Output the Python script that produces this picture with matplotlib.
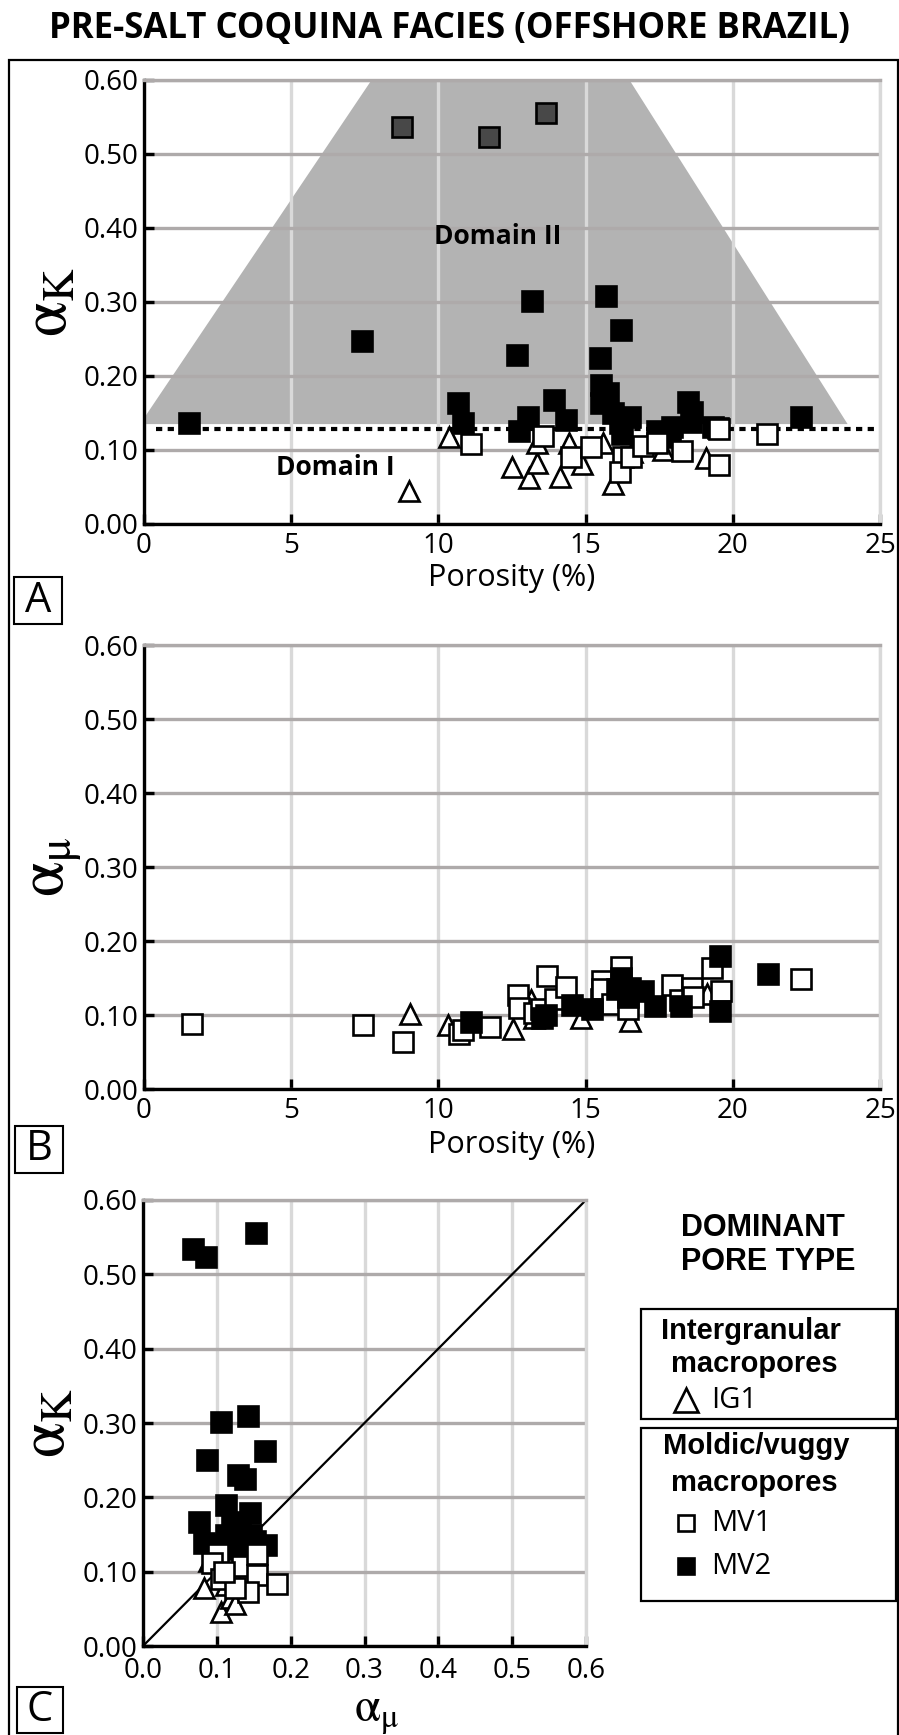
import numpy as np
import matplotlib
matplotlib.use("Agg")
import matplotlib.pyplot as plt
from matplotlib.patches import Rectangle, Polygon
from matplotlib.lines import Line2D

plt.rcParams['mathtext.fontset'] = 'stix'
plt.rcParams['font.family'] = ['Open Sans', 'DejaVu Sans']

# ---- panel A : porosity (%) vs alpha_K ----
ig1_phi_a = [9.01, 10.36, 12.50, 13.07, 13.34, 13.36, 14.13, 14.44, 14.89, 15.60, 15.92, 16.57, 17.62, 19.09]
ig1_ak_a = [0.044, 0.118, 0.077, 0.062, 0.083, 0.110, 0.063, 0.110, 0.081, 0.110, 0.054, 0.097, 0.100, 0.089]

mv1_phi_a = [11.12, 13.56, 14.50, 15.17, 16.27, 16.17, 16.55, 16.94, 17.43, 18.27, 19.54, 19.54, 21.17]
mv1_ak_a = [0.108, 0.119, 0.091, 0.104, 0.090, 0.070, 0.091, 0.106, 0.109, 0.098, 0.128, 0.080, 0.121]

mv2_phi_a = [1.53, 7.42, 13.18, 12.68, 10.65, 10.82, 13.06, 12.73, 13.94, 14.32, 15.70, 16.20,
             15.50, 15.52, 15.75, 15.52, 15.94, 16.50, 16.22, 16.17, 17.41, 17.92, 17.87, 18.49,
             18.63, 18.57, 19.34, 19.50, 22.30]
mv2_ak_a = [0.137, 0.247, 0.302, 0.228, 0.164, 0.136, 0.145, 0.126, 0.168, 0.141, 0.308, 0.262,
            0.224, 0.188, 0.177, 0.164, 0.150, 0.145, 0.122, 0.137, 0.125, 0.131, 0.118, 0.165,
            0.152, 0.138, 0.131, 0.130, 0.144]

# three high alpha_K samples drawn in dark grey
mv2d_phi_a = [8.78, 11.72, 13.67]
mv2d_ak_a = [0.536, 0.523, 0.556]

# Domain II outline and Domain I/II limit
domain2_phi = [0.0, 0.0, 7.73, 16.49, 23.9]
domain2_ak = [0.135, 0.143, 0.60, 0.60, 0.135]
limit_phi = [0.4, 24.8]
limit_ak = 0.128

# ---- panel B : porosity (%) vs alpha_mu ----
ig1_phi_b = [9.02, 10.33, 12.54, 13.15, 13.25, 14.86, 16.52, 19.12]
ig1_amu_b = [0.101, 0.086, 0.081, 0.120, 0.096, 0.096, 0.092, 0.128]

mv1_phi_b = [1.63, 7.45, 8.81, 10.69, 10.85, 11.76, 12.69, 12.75, 13.25, 13.49, 13.70, 13.96, 14.35,
             15.51, 15.55, 15.57, 15.90, 16.20, 16.44, 17.95, 18.20, 18.60, 18.65, 19.30, 19.60, 22.32]
mv1_amu_b = [0.088, 0.086, 0.064, 0.074, 0.080, 0.084, 0.127, 0.110, 0.103, 0.108, 0.153, 0.122, 0.138,
             0.121, 0.146, 0.135, 0.115, 0.165, 0.108, 0.140, 0.120, 0.137, 0.125, 0.164, 0.132, 0.148]

mv2_phi_b = [11.10, 13.52, 13.67, 14.54, 15.21, 16.05, 16.20, 16.52, 16.45, 16.94, 17.36, 18.25,
             19.56, 19.56, 21.19]
mv2_amu_b = [0.090, 0.096, 0.100, 0.114, 0.108, 0.135, 0.150, 0.137, 0.125, 0.132, 0.112, 0.112,
             0.180, 0.105, 0.155]

# ---- panel C : alpha_mu vs alpha_K ----
ig1_amu_c = [0.105, 0.083, 0.119, 0.124, 0.089, 0.113]
ig1_ak_c = [0.046, 0.078, 0.065, 0.056, 0.114, 0.082]

mv1_amu_c = [0.101, 0.093, 0.117, 0.134, 0.155, 0.155, 0.142, 0.181, 0.105, 0.124, 0.110]
mv1_ak_c = [0.124, 0.111, 0.095, 0.108, 0.124, 0.095, 0.072, 0.083, 0.090, 0.078, 0.100]

mv2_amu_c = [0.068, 0.085, 0.153, 0.106, 0.142, 0.087, 0.165, 0.128, 0.138, 0.076, 0.113, 0.145,
             0.132, 0.082, 0.113, 0.128, 0.146, 0.166, 0.152, 0.097, 0.124, 0.136, 0.120]
mv2_ak_c = [0.534, 0.523, 0.555, 0.302, 0.309, 0.250, 0.263, 0.230, 0.224, 0.167, 0.190, 0.179,
            0.167, 0.138, 0.150, 0.131, 0.150, 0.136, 0.141, 0.136, 0.155, 0.143, 0.165]

one_to_one = [0.0, 0.6]

phi_ticks = [0, 5, 10, 15, 20, 25]
alpha_ticks = [0.0, 0.1, 0.2, 0.3, 0.4, 0.5, 0.6]

W, H = 899, 1735
fig = plt.figure(figsize=(W / 100, H / 100), dpi=100)


def fx(px):
    return px / W


def fy(py):
    return 1 - py / H


HGRID = '#aeaaaa'
VGRID = '#d9d9d9'
BOLD = ['Liberation Sans', 'DejaVu Sans']
TICK = 20
LAB = 46
AK = r'$\mathrm{\alpha}_{\mathrm{K}}$'
AMU = r'$\mathrm{\alpha}_{\mathrm{\mu}}$'


def style(ax, xticks, yticks, xfmt, yfmt, xpad=6):
    ax.set_xlim(xticks[0], xticks[-1])
    ax.set_ylim(yticks[0], yticks[-1])
    ax.set_xticks(xticks)
    ax.set_yticks(yticks)
    ax.set_xticklabels([xfmt % v for v in xticks])
    ax.set_yticklabels([yfmt % v for v in yticks])
    ax.set_axisbelow(True)
    ax.xaxis.grid(True, color=VGRID, lw=2.4)
    ax.yaxis.grid(True, color=HGRID, lw=2.4)
    for s in ['left', 'bottom']:
        ax.spines[s].set_linewidth(2.4)
    ax.spines['top'].set_color(HGRID)
    ax.spines['top'].set_linewidth(2.4)
    ax.spines['right'].set_color(VGRID)
    ax.spines['right'].set_linewidth(2.4)
    ax.tick_params(direction='in', length=7, width=2.4, labelsize=TICK)
    ax.tick_params(axis='x', pad=xpad)
    ax.tick_params(axis='y', pad=4)


def pts(ax, x, y, marker, fc, ms=14):
    ax.plot(x, y, ls='none', marker=marker, ms=ms, mfc=fc, mec='black', mew=1.9, clip_on=False)


# frame and title
fig.add_artist(Rectangle((fx(9), fy(1745)), fx(898) - fx(9), fy(60) - fy(1745),
                         fill=False, ec='black', lw=1.6, transform=fig.transFigure))
fig.text(0.5, fy(29), 'PRE-SALT COQUINA FACIES (OFFSHORE BRAZIL)', ha='center', va='center',
         fontsize=25, fontweight='bold')

# panel A
axA = fig.add_axes([fx(144), fy(524), 736 / W, 444 / H])
style(axA, phi_ticks, alpha_ticks, '%d', '%.2f')
axA.add_patch(Polygon(np.column_stack([domain2_phi, domain2_ak]), closed=True,
                      fc='#b3b3b3', ec='none', zorder=0.2))
axA.plot(limit_phi, [limit_ak, limit_ak], color='black', lw=3, dashes=(1.5, 1.3),
         dash_capstyle='butt', zorder=1.8)
pts(axA, ig1_phi_a, ig1_ak_a, '^', 'white')
pts(axA, mv2_phi_a, mv2_ak_a, 's', 'black')
pts(axA, mv2d_phi_a, mv2d_ak_a, 's', '#484848')
pts(axA, mv1_phi_a, mv1_ak_a, 's', 'white')
axA.text(12.0, 0.389, 'Domain II', ha='center', va='center', fontsize=19, fontweight='bold')
axA.text(6.5, 0.077, 'Domain I', ha='center', va='center', fontsize=19, fontweight='bold')
axA.set_xlabel('Porosity (%)', fontsize=22, va='center')
axA.xaxis.set_label_coords(0.5, -(578 - 524) / 444)
axA.set_ylabel(AK, fontsize=LAB, va='center', ha='center')
axA.yaxis.set_label_coords(-(144 - 50) / 736, 0.5)

# panel B
axB = fig.add_axes([fx(144), fy(1089), 736 / W, 444 / H])
style(axB, phi_ticks, alpha_ticks, '%d', '%.2f')
pts(axB, ig1_phi_b, ig1_amu_b, '^', 'white')
pts(axB, mv1_phi_b, mv1_amu_b, 's', 'white')
pts(axB, mv2_phi_b, mv2_amu_b, 's', 'black')
axB.set_xlabel('Porosity (%)', fontsize=22, va='center')
axB.xaxis.set_label_coords(0.5, -(1145 - 1089) / 444)
axB.set_ylabel(AMU, fontsize=LAB, va='center', ha='center')
axB.yaxis.set_label_coords(-(144 - 52) / 736, 0.5)

# panel C
axC = fig.add_axes([fx(143), fy(1646), 443 / W, 446 / H])
style(axC, alpha_ticks, alpha_ticks, '%.1f', '%.2f', xpad=8)
axC.plot(one_to_one, one_to_one, color='black', lw=1.6, zorder=1.8)
pts(axC, ig1_amu_c, ig1_ak_c, '^', 'white')
pts(axC, mv2_amu_c, mv2_ak_c, 's', 'black')
pts(axC, mv1_amu_c, mv1_ak_c, 's', 'white')
axC.set_xlabel(AMU, fontsize=34, va='center')
axC.xaxis.set_label_coords((377 - 143) / 443, -(1713 - 1646) / 446)
axC.set_ylabel(AK, fontsize=LAB, va='center', ha='center')
axC.yaxis.set_label_coords(-(143 - 48) / 443, 0.5)

# panel letters
for letter, (x0, y0, x1, y1) in zip('ABC', [(14, 577, 62, 624), (15, 1126, 63, 1173),
                                           (17, 1687, 63, 1733)]):
    fig.add_artist(Rectangle((fx(x0), fy(y1)), fx(x1) - fx(x0), fy(y0) - fy(y1),
                             fill=False, ec='black', lw=1.5, transform=fig.transFigure))
    fig.text(fx((x0 + x1) / 2), fy((y0 + y1) / 2), letter, ha='center', va='center', fontsize=30)

# legend
fig.text(fx(763), fy(1228), 'DOMINANT', ha='center', va='center', fontsize=22,
         fontweight='bold', family=BOLD)
fig.text(fx(768), fy(1262), 'PORE TYPE', ha='center', va='center', fontsize=22,
         fontweight='bold', family=BOLD)
for y0, y1 in [(1309, 1419), (1428, 1601)]:
    fig.add_artist(Rectangle((fx(641), fy(y1)), fx(896) - fx(641), fy(y0) - fy(y1),
                             fill=False, ec='black', lw=1.6, transform=fig.transFigure))
for txt, x, y in [('Intergranular', 751, 1331), ('macropores', 754, 1364),
                  ('Moldic/vuggy', 756, 1446), ('macropores', 754, 1483)]:
    fig.text(fx(x), fy(y), txt, ha='center', va='center', fontsize=21,
             fontweight='bold', family=BOLD)
for marker, fc, ms, y, lab in [('^', 'white', 17, 1400, 'IG1'), ('s', 'white', 12, 1523, 'MV1'),
                               ('s', 'black', 12, 1566, 'MV2')]:
    fig.add_artist(Line2D([fx(686)], [fy(y)], ls='none', marker=marker, ms=ms, mfc=fc,
                          mec='black', mew=1.9, transform=fig.transFigure))
    fig.text(fx(711), fy(y), lab, ha='left', va='center', fontsize=21)

fig.savefig('out.png', dpi=100)
